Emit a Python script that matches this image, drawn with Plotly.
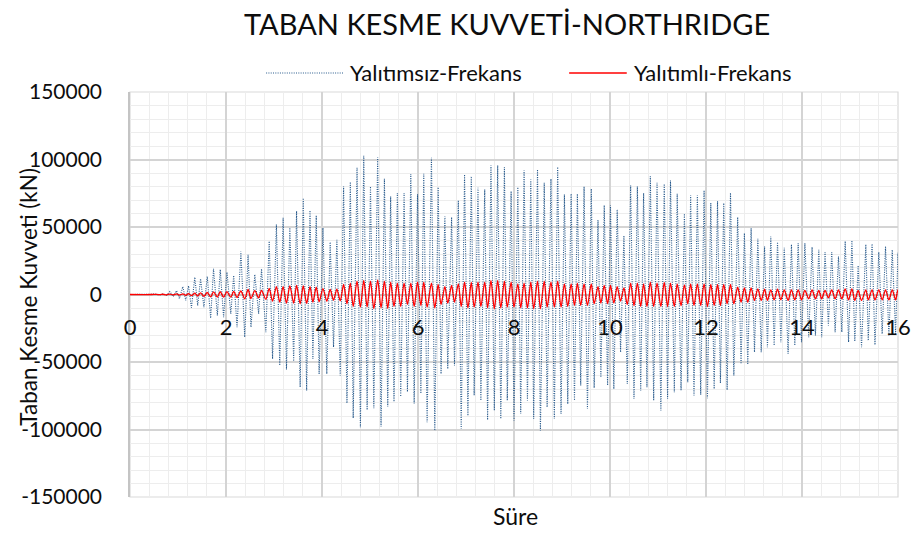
import plotly.graph_objects as go

# ---------------- data (peak times in s, base shear in kN) -------------
t_peaks = [
    0.00, 0.45, 0.55, 0.62, 0.69, 0.76, 0.83, 0.90, 0.97, 1.03,
    1.10, 1.16, 1.22, 1.28, 1.35, 1.41, 1.47, 1.54, 1.61, 1.68,
    1.74, 1.82, 1.88, 1.95, 2.02, 2.10, 2.16, 2.23, 2.31, 2.39,
    2.46, 2.52, 2.60, 2.68, 2.74, 2.83, 2.90, 2.97, 3.05, 3.12,
    3.19, 3.26, 3.33, 3.41, 3.47, 3.545, 3.61, 3.68, 3.75, 3.81,
    3.88, 3.94, 4.02, 4.10, 4.17, 4.24, 4.31, 4.38, 4.45, 4.52,
    4.59, 4.65, 4.73, 4.80, 4.87, 4.94, 5.01, 5.08, 5.16, 5.23,
    5.30, 5.37, 5.43, 5.50, 5.57, 5.64, 5.71, 5.78, 5.85, 5.92,
    5.99, 6.06, 6.12, 6.19, 6.28, 6.35, 6.42, 6.48, 6.56, 6.62,
    6.70, 6.76, 6.84, 6.90, 6.97, 7.04, 7.11, 7.17, 7.25, 7.31,
    7.39, 7.45, 7.52, 7.59, 7.66, 7.725, 7.80, 7.86, 7.94, 8.00,
    8.08, 8.14, 8.21, 8.28, 8.35, 8.41, 8.49, 8.55, 8.63, 8.69,
    8.77, 8.84, 8.91, 8.98, 9.05, 9.12, 9.19, 9.26, 9.32, 9.39,
    9.46, 9.53, 9.61, 9.67, 9.75, 9.81, 9.88, 9.95, 10.01, 10.08,
    10.15, 10.22, 10.29, 10.36, 10.43, 10.50, 10.57, 10.64, 10.70, 10.77,
    10.84, 10.91, 10.98, 11.06, 11.13, 11.20, 11.26, 11.34, 11.40, 11.48,
    11.55, 11.62, 11.68, 11.75, 11.82, 11.89, 11.96, 12.03, 12.10, 12.17,
    12.24, 12.30, 12.37, 12.44, 12.51, 12.58, 12.66, 12.73, 12.80, 12.87,
    12.94, 13.01, 13.08, 13.15, 13.22, 13.28, 13.35, 13.42, 13.49, 13.56,
    13.63, 13.71, 13.78, 13.85, 13.92, 13.99, 14.06, 14.14, 14.21, 14.28,
    14.35, 14.41, 14.48, 14.55, 14.62, 14.69, 14.76, 14.83, 14.90, 14.97,
    15.04, 15.10, 15.17, 15.24, 15.33, 15.38, 15.46, 15.52, 15.60, 15.67,
    15.74, 15.81, 15.88, 15.95, 16.00, 16.07,
]

yalitimsiz = [
    0, 0, 300, -300, 500, -600, 2200, -1500, 2800, -3000,
    5900, -4400, 6400, -9900, 12800, -8200, 11600, -9400, 13300, -17500,
    19000, -15600, 18500, -16800, 16500, -14300, 14100, -24200, 31900, -31600,
    29400, -24200, 14800, -14300, 19000, -27900, 39500, -47700, 51900, -52600,
    56800, -55600, 49400, -49400, 61750, -68700, 71400, -71100, 62200, -47700,
    58500, -58800, 49400, -58800, 38800, -39000, 40500, -60000, 80000, -80500,
    83400, -91600, 93800, -98300, 102700, -85500, 80000, -84200, 101700, -97800,
    85700, -83000, 72600, -79300, 75100, -75600, 75100, -72100, 89200, -80700,
    74300, -73300, 89400, -94600, 101300, -100800, 79500, -58800, 57800, -55100,
    57300, -52600, 69700, -99500, 88900, -89700, 87500, -74800, 79000, -78500,
    77800, -92900, 95600, -86000, 95600, -92100, 94300, -78500, 76500, -93400,
    79500, -88400, 91900, -78500, 85200, -92100, 92600, -100800, 82700, -83500,
    85700, -92100, 94400, -88400, 74100, -81000, 74600, -78500, 74600, -67400,
    80000, -84700, 78300, -69200, 55100, -61300, 66000, -67400, 66000, -69900,
    62900, -42700, 43700, -66200, 80700, -77300, 80000, -71100, 75100, -68700,
    87500, -78500, 82700, -85900, 81900, -77300, 84400, -72400, 74600, -71100,
    59800, -65000, 73400, -74800, 73400, -74300, 77100, -76800, 67700, -69900,
    69100, -65500, 67700, -70700, 75300, -60000, 57300, -51400, 45400, -51900,
    49100, -42700, 41200, -42700, 35600, -39000, 42900, -37800, 38800, -35300,
    34600, -43900, 37000, -37800, 38000, -35300, 38000, -31600, 35100, -30400,
    33100, -31600, 31400, -23000, 31400, -27900, 28200, -27900, 39500, -35300,
    40000, -34800, 21500, -39000, 37000, -34100, 37500, -37300, 31400, -29100,
    35600, -30400, 33100, -29100, 31000, -31000,
]

yalitimli = [
    0, 0, 100, -150, 200, -250, 300, -300, 400, -450,
    500, -600, 700, -900, 1000, -1100, 1200, -1300, 1500, -1800,
    2000, -1900, 2100, -2000, 2200, -2000, 2300, -2200, 2600, -3200,
    3800, -3000, 2800, -2500, 3000, -3600, 4500, -4900, 5900, -5700,
    5900, -6400, 6400, -6400, 6700, -6900, 6400, -6600, 5900, -5700,
    5400, -5400, 4400, -5000, 3700, -4200, 4000, -4700, 7400, -6900,
    8400, -8900, 9900, -9400, 10400, -9100, 9900, -10600, 10900, -9900,
    9900, -10400, 9100, -8900, 8400, -8900, 8400, -7400, 8400, -8900,
    9100, -8200, 9100, -9400, 8400, -9900, 7400, -7400, 5900, -6400,
    6700, -5700, 7900, -8900, 9100, -9900, 8900, -9400, 9100, -8900,
    9100, -9900, 10400, -10600, 10400, -9900, 9900, -9400, 9100, -9400,
    7900, -9900, 8400, -9900, 9100, -10600, 9900, -10600, 9900, -9400,
    9100, -9400, 9900, -9400, 7900, -8900, 7900, -8200, 8400, -8200,
    7900, -8200, 7900, -6900, 5900, -6400, 6700, -6900, 6700, -6400,
    5900, -4900, 4900, -7400, 8400, -8200, 8400, -8900, 7900, -8900,
    9100, -8900, 8400, -8900, 8900, -8900, 8400, -8900, 7900, -8200,
    7200, -6900, 7900, -8200, 7900, -8200, 7900, -8900, 7400, -8200,
    7400, -8200, 7400, -6900, 7400, -6900, 5400, -5700, 4900, -5700,
    4900, -4400, 4200, -4400, 4000, -4400, 3500, -4000, 4000, -4000,
    3500, -4400, 3500, -4000, 3500, -4000, 3000, -3200, 3500, -3200,
    3000, -3200, 3000, -2500, 3500, -3200, 3500, -3200, 4200, -4000,
    4200, -4400, 3000, -4400, 3500, -4000, 3500, -4000, 3500, -4000,
    3500, -4000, 3500, -4000, 3500, -3500,
]

series_names = ["Yalıtımsız-Frekans", "Yalıtımlı-Frekans"]
y_tick_vals = [-150000, -100000, -50000, 0, 50000, 100000, 150000]
y_tick_text = ["-150000", "-100000", "-50000", "0", "50000", "100000", "150000"]
x_tick_vals = [0, 2, 4, 6, 8, 10, 12, 14, 16]

title_text = "TABAN KESME KUVVETİ-NORTHRIDGE"
x_title = "Süre"
y_title = "Taban Kesme Kuvveti (kN)"

# ---------------- styling ----------------
W, H = 923, 534
L, R, T, B = 130, 20, 92, 37
PW, PH = W - L - R, H - T - B
FONT = "Lato"
TXT = "#0d0d0d"
BLUE = "#285a8c"
RED = "#ff0000"
BLUE_DASH = "1px,1.3px"


def px_x(p):
    # pixel column -> paper (plot-area) fraction
    return (p - L) / PW


def px_y(p):
    # pixel row -> paper (plot-area) fraction
    return (H - B - p) / PH


fig = go.Figure()
fig.add_trace(go.Scatter(
    x=t_peaks, y=yalitimsiz, mode="lines", name=series_names[0],
    line=dict(color=BLUE, width=1.1, dash=BLUE_DASH), showlegend=False,
))
fig.add_trace(go.Scatter(
    x=t_peaks, y=yalitimli, mode="lines", name=series_names[1],
    line=dict(color=RED, width=1.3, shape="spline", smoothing=0.8), showlegend=False,
))

fig.update_layout(
    width=W, height=H,
    margin=dict(l=L, r=R, t=T, b=B),
    paper_bgcolor="white", plot_bgcolor="white",
    font=dict(family=FONT, color=TXT, size=20),
    showlegend=False,
    xaxis=dict(
        range=[0, 16], tickvals=x_tick_vals, ticktext=[str(v) for v in x_tick_vals],
        anchor="free", position=0.5,
        showgrid=True, gridcolor="#d4d4d4", gridwidth=1.5,
        minor=dict(dtick=0.4, tick0=0, showgrid=True, gridcolor="#ededed", gridwidth=1.2),
        zeroline=False, showline=False, ticks="",
        ticklabelstandoff=17,
        tickfont=dict(size=22, family=FONT, color=TXT),
    ),
    yaxis=dict(
        range=[-150000, 150000], tickvals=y_tick_vals, ticktext=y_tick_text,
        showgrid=True, gridcolor="#d4d4d4", gridwidth=1.5,
        minor=dict(dtick=10000, tick0=0, showgrid=True, gridcolor="#ededed", gridwidth=1.2),
        zeroline=True, zerolinecolor="#c4c4c4", zerolinewidth=1.5,
        showline=True, linecolor="#c4c4c4", linewidth=1.5,
        ticks="", ticklabelstandoff=22,
        tickfont=dict(size=21, family=FONT, color=TXT),
    ),
    shapes=[
        dict(type="rect", xref="x domain", yref="y domain", x0=0, x1=1, y0=0, y1=1,
             line=dict(color="#d9d9d9", width=1.2), layer="below"),
        # legend samples
        dict(type="line", xref="paper", yref="paper",
             x0=px_x(267), x1=px_x(345), y0=px_y(73), y1=px_y(73),
             line=dict(color=BLUE, width=1.1, dash=BLUE_DASH)),
        dict(type="line", xref="paper", yref="paper",
             x0=px_x(572), x1=px_x(630), y0=px_y(73), y1=px_y(73),
             line=dict(color=RED, width=1.3)),
    ],
    annotations=[
        dict(text=title_text, xref="paper", yref="paper", x=px_x(509), y=px_y(23),
             xanchor="center", yanchor="middle", showarrow=False,
             font=dict(size=29, family=FONT, color=TXT)),
        dict(text=series_names[0], xref="paper", yref="paper", x=px_x(349), y=px_y(73),
             xanchor="left", yanchor="middle", showarrow=False,
             font=dict(size=22, family=FONT, color=TXT)),
        dict(text=series_names[1], xref="paper", yref="paper", x=px_x(635), y=px_y(73),
             xanchor="left", yanchor="middle", showarrow=False,
             font=dict(size=22, family=FONT, color=TXT)),
        dict(text=x_title, xref="paper", yref="paper", x=px_x(518), y=px_y(516),
             xanchor="center", yanchor="middle", showarrow=False,
             font=dict(size=23, family=FONT, color=TXT)),
        dict(text=y_title, xref="paper", yref="paper", x=px_x(27), y=px_y(297),
             xanchor="center", yanchor="middle", showarrow=False, textangle=-90,
             font=dict(size=22.5, family=FONT, color=TXT)),
    ],
)

fig.write_html(
    "out.html",
    config={"displayModeBar": False},
    post_script="document.body.style.margin='0';",
)
